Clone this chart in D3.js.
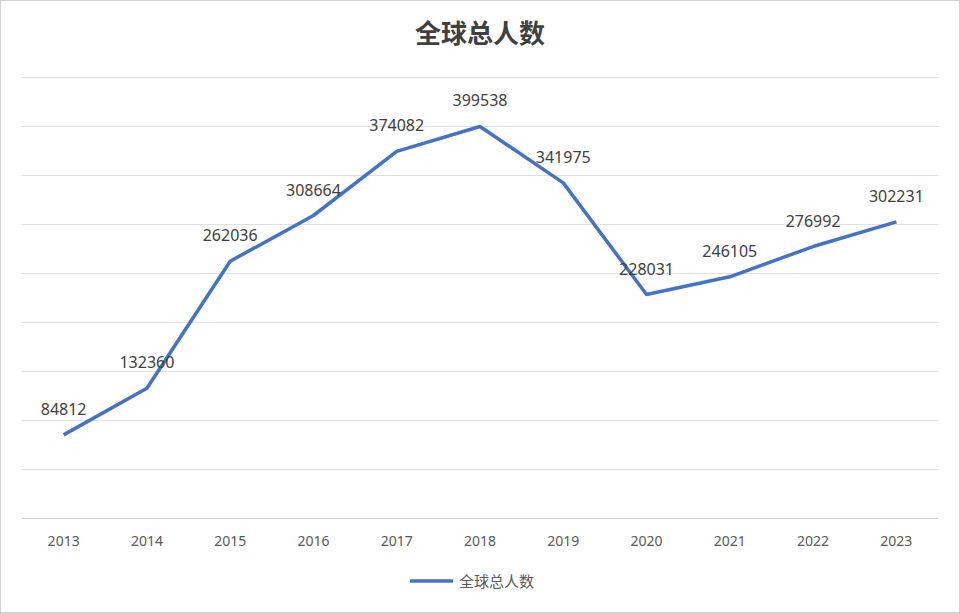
<!DOCTYPE html>
<html>
<head>
<meta charset="utf-8">
<script src="https://cdn.jsdelivr.net/npm/d3@7"></script>
<style>
body{margin:0;background:#fff;font-family:"Noto Sans CJK SC","Noto Sans",sans-serif;}
</style>
</head>
<body>
<div id="chart"></div>
<script>
const years=["2013","2014","2015","2016","2017","2018","2019","2020","2021","2022","2023"];
const totals=[84812,132360,262036,308664,374082,399538,341975,228031,246105,276992,302231];
const yTicks=[0,50000,100000,150000,200000,250000,300000,350000,400000,450000];
const seriesName="全球总人数";

const W=960,H=613;
const svg=d3.select("#chart").append("svg").attr("width",W).attr("height",H);
svg.append("rect").attr("x",0.5).attr("y",0.5).attr("width",W-1).attr("height",H-1)
  .attr("fill","#fff").attr("stroke","#d0d0d0");

const x=d3.scaleBand().domain(years).range([22,938]);
const y=d3.scaleLinear().domain([0,450000]).range([518,77]);

svg.append("g").selectAll("line").data(yTicks).enter().append("line")
  .attr("x1",22).attr("x2",938)
  .attr("y1",d=>Math.round(y(d))+0.5).attr("y2",d=>Math.round(y(d))+0.5)
  .attr("stroke",d=>d===0?"#d0d0d0":"#e0e0e0").attr("stroke-width",1);

const xAxis=svg.append("g").attr("transform","translate(0,518)")
  .call(d3.axisBottom(x).tickSize(0).tickPadding(18));
xAxis.select(".domain").remove();
xAxis.selectAll("text").attr("font-size","14px").attr("fill","#595959")
  .attr("font-family","'Noto Sans',sans-serif");

const line=d3.line().x((d,i)=>x(years[i])+x.bandwidth()/2).y(d=>y(d));
svg.append("path").datum(totals).attr("d",line).attr("fill","none")
  .attr("stroke","#4472C4").attr("stroke-width",3.5).attr("stroke-linejoin","round");

svg.append("g").selectAll("text").data(totals).enter().append("text")
  .attr("x",(d,i)=>x(years[i])+x.bandwidth()/2)
  .attr("y",d=>y(d)-20)
  .attr("text-anchor","middle").attr("font-size","16px").attr("fill","#404040")
  .attr("font-family","'Noto Sans',sans-serif")
  .text(d=>d);

svg.append("text").attr("x",W/2).attr("y",43).attr("text-anchor","middle")
  .attr("font-size","26px").attr("font-weight","bold").attr("fill","#404040").text(seriesName);

svg.append("line").attr("x1",410).attr("x2",453).attr("y1",581).attr("y2",581)
  .attr("stroke","#4472C4").attr("stroke-width",3.5);
svg.append("text").attr("x",459).attr("y",587).attr("font-size","15px").attr("fill","#595959").text(seriesName);
</script>
</body>
</html>
